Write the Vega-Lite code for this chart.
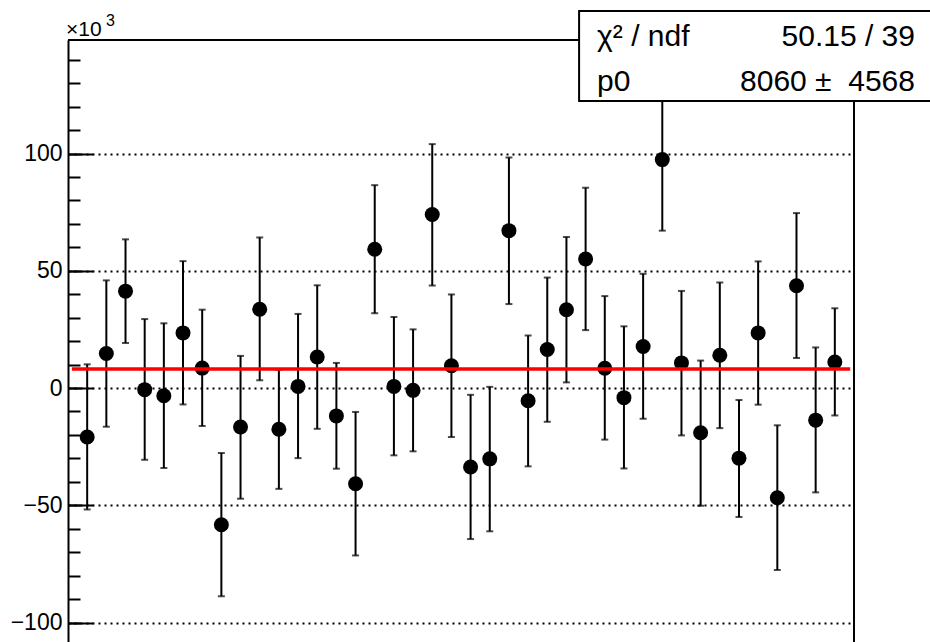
{
  "$schema": "https://vega.github.io/schema/vega-lite/v6.json",
  "width": 786,
  "height": 602,
  "autosize": {"type": "none"},
  "padding": {"left": 68, "top": 40, "right": 76, "bottom": 0},
  "background": "white",
  "config": {"view": {"stroke": null}, "font": "Liberation Sans"},
  "datasets": {
    "pts": [
      {"bin": 1, "val": -20.9, "lo": -51.8, "hi": 10.1},
      {"bin": 2, "val": 14.7, "lo": -16.5, "hi": 45.9},
      {"bin": 3, "val": 41.3, "lo": 19.2, "hi": 63.4},
      {"bin": 4, "val": -0.7, "lo": -30.6, "hi": 29.4},
      {"bin": 5, "val": -3.3, "lo": -34.1, "hi": 27.6},
      {"bin": 6, "val": 23.5, "lo": -7.0, "hi": 54.1},
      {"bin": 7, "val": 8.5, "lo": -16.2, "hi": 33.4},
      {"bin": 8, "val": -58.3, "lo": -88.8, "hi": -27.7},
      {"bin": 9, "val": -16.6, "lo": -47.2, "hi": 13.7},
      {"bin": 10, "val": 33.6, "lo": 3.3, "hi": 64.2},
      {"bin": 11, "val": -17.6, "lo": -43.0, "hi": 7.8},
      {"bin": 12, "val": 0.7, "lo": -29.9, "hi": 31.6},
      {"bin": 13, "val": 13.2, "lo": -17.4, "hi": 43.8},
      {"bin": 14, "val": -11.9, "lo": -34.4, "hi": 10.7},
      {"bin": 15, "val": -40.8, "lo": -71.4, "hi": -10.2},
      {"bin": 16, "val": 59.2, "lo": 31.9, "hi": 86.5},
      {"bin": 17, "val": 0.7, "lo": -28.7, "hi": 30.3},
      {"bin": 18, "val": -1.0, "lo": -27.0, "hi": 25.0},
      {"bin": 19, "val": 74.0, "lo": 43.7, "hi": 104.0},
      {"bin": 20, "val": 9.5, "lo": -20.9, "hi": 39.9},
      {"bin": 21, "val": -33.7, "lo": -64.4, "hi": -2.9},
      {"bin": 22, "val": -30.2, "lo": -61.1, "hi": 0.5},
      {"bin": 23, "val": 67.1, "lo": 35.8, "hi": 98.3},
      {"bin": 24, "val": -5.4, "lo": -33.4, "hi": 22.4},
      {"bin": 25, "val": 16.4, "lo": -14.4, "hi": 47.1},
      {"bin": 26, "val": 33.4, "lo": 2.4, "hi": 64.4},
      {"bin": 27, "val": 55.0, "lo": 24.7, "hi": 85.4},
      {"bin": 28, "val": 8.4, "lo": -22.0, "hi": 39.2},
      {"bin": 29, "val": -4.1, "lo": -34.3, "hi": 26.3},
      {"bin": 30, "val": 17.7, "lo": -13.1, "hi": 48.7},
      {"bin": 31, "val": 97.4, "lo": 67.1, "hi": 127.7},
      {"bin": 32, "val": 10.7, "lo": -20.2, "hi": 41.4},
      {"bin": 33, "val": -19.1, "lo": -50.2, "hi": 11.7},
      {"bin": 34, "val": 14.0, "lo": -17.1, "hi": 45.0},
      {"bin": 35, "val": -29.9, "lo": -55.0, "hi": -5.1},
      {"bin": 36, "val": 23.5, "lo": -7.1, "hi": 54.0},
      {"bin": 37, "val": -46.8, "lo": -77.6, "hi": -15.9},
      {"bin": 38, "val": 43.6, "lo": 12.8, "hi": 74.6},
      {"bin": 39, "val": -13.7, "lo": -44.5, "hi": 17.3},
      {"bin": 40, "val": 11.1, "lo": -11.7, "hi": 34.0}
    ],
    "fit": [
      {"bin": 0.2, "val": 8.06},
      {"bin": 40.8, "val": 8.06}
    ],
    "stats": [
      {"name": "χ² / ndf", "result": "50.15 / 39"}
    ],
    "stats2": [
      {"name": "p0", "result": "8060 ± \u00a04568"}
    ],
    "mult": [
      {"base": "×10", "exp": "3"}
    ]
  },
  "resolve": {"axis": {"y": "independent"}},
  "layer": [
    {
      "data": {"name": "pts"},
      "mark": {"type": "rule", "color": "black", "strokeWidth": 2},
      "encoding": {
        "x": {"field": "bin", "type": "quantitative", "scale": {"domain": [0, 41], "nice": false, "zero": false}, "axis": null},
        "y": {
          "field": "lo", "type": "quantitative",
          "scale": {"domain": [-108.3, 148.4], "nice": false, "zero": false},
          "axis": {
            "orient": "left",
            "values": [-100, -50, 0, 50, 100],
            "grid": true, "gridColor": "black", "gridDash": [2, 4], "gridWidth": 2, "gridOpacity": 1,
            "ticks": true, "tickSize": -25, "tickWidth": 2, "tickColor": "black",
            "domain": true, "domainColor": "black", "domainWidth": 2,
            "labelFontSize": 23, "labelColor": "black", "labelPadding": 31, "labelFont": "Liberation Sans",
            "labelExpr": "replace(format(datum.value, 'd'), '-', '\u2212')",
            "title": null
          }
        },
        "y2": {"field": "hi"}
      }
    },
    {
      "data": {"name": "pts"},
      "mark": {"type": "tick", "orient": "horizontal", "color": "black", "thickness": 2, "size": 7},
      "encoding": {
        "x": {"field": "bin", "type": "quantitative", "axis": null},
        "y": {
          "field": "lo", "type": "quantitative",
          "axis": {
            "orient": "left",
            "values": [-100, -90, -80, -70, -60, -50, -40, -30, -20, -10, 0, 10, 20, 30, 40, 50, 60, 70, 80, 90, 100, 110, 120, 130, 140],
            "grid": false, "labels": false, "domain": false, "title": null,
            "ticks": true, "tickSize": -12, "tickWidth": 2, "tickColor": "black"
          }
        }
      }
    },
    {
      "data": {"name": "pts"},
      "mark": {"type": "tick", "orient": "horizontal", "color": "black", "thickness": 2, "size": 7},
      "encoding": {
        "x": {"field": "bin", "type": "quantitative", "axis": null},
        "y": {"field": "hi", "type": "quantitative", "axis": null}
      }
    },
    {
      "data": {"name": "pts"},
      "mark": {"type": "point", "shape": "circle", "filled": true, "color": "black", "opacity": 1, "size": 225},
      "encoding": {
        "x": {"field": "bin", "type": "quantitative", "axis": null},
        "y": {"field": "val", "type": "quantitative", "axis": null}
      }
    },
    {
      "data": {"name": "fit"},
      "mark": {"type": "line", "color": "#ff0000", "strokeWidth": 3.5},
      "encoding": {
        "x": {"field": "bin", "type": "quantitative", "axis": null},
        "y": {"field": "val", "type": "quantitative", "axis": null}
      }
    },
    {
      "data": {"values": [{}]},
      "mark": {"type": "rule", "color": "black", "strokeWidth": 2},
      "encoding": {
        "y": {"datum": 148.4, "type": "quantitative", "axis": null}
      }
    },
    {
      "data": {"values": [{}]},
      "mark": {"type": "rule", "color": "black", "strokeWidth": 2},
      "encoding": {
        "x": {"datum": 41, "type": "quantitative", "axis": null}
      }
    },
    {
      "data": {"name": "mult"},
      "mark": {"type": "text", "align": "left", "baseline": "alphabetic", "fontSize": 21, "font": "Liberation Sans", "color": "black"},
      "encoding": {
        "text": {"field": "base"},
        "x": {"datum": -0.1, "type": "quantitative", "axis": null},
        "y": {"datum": 150.1, "type": "quantitative", "axis": null}
      }
    },
    {
      "data": {"name": "mult"},
      "mark": {"type": "text", "align": "left", "baseline": "alphabetic", "fontSize": 16, "font": "Liberation Sans", "color": "black"},
      "encoding": {
        "text": {"field": "exp"},
        "x": {"datum": 1.98, "type": "quantitative", "axis": null},
        "y": {"datum": 154.4, "type": "quantitative", "axis": null}
      }
    },
    {
      "data": {"values": [{}]},
      "mark": {"type": "rect", "fill": "white", "stroke": "black", "strokeWidth": 2},
      "encoding": {
        "x": {"datum": 26.66, "type": "quantitative", "axis": null},
        "x2": {"datum": 46},
        "y": {"datum": 160.8, "type": "quantitative", "axis": null},
        "y2": {"datum": 122.4}
      }
    },
    {
      "data": {"name": "stats"},
      "mark": {"type": "text", "align": "left", "baseline": "alphabetic", "fontSize": 30, "font": "Liberation Sans", "color": "black"},
      "encoding": {
        "text": {"field": "name"},
        "x": {"datum": 27.6, "type": "quantitative", "axis": null},
        "y": {"datum": 145.8, "type": "quantitative", "axis": null}
      }
    },
    {
      "data": {"name": "stats"},
      "mark": {"type": "text", "align": "right", "baseline": "alphabetic", "fontSize": 30, "font": "Liberation Sans", "color": "black"},
      "encoding": {
        "text": {"field": "result"},
        "x": {"datum": 44.18, "type": "quantitative", "axis": null},
        "y": {"datum": 145.8, "type": "quantitative", "axis": null}
      }
    },
    {
      "data": {"name": "stats2"},
      "mark": {"type": "text", "align": "left", "baseline": "alphabetic", "fontSize": 30, "font": "Liberation Sans", "color": "black"},
      "encoding": {
        "text": {"field": "name"},
        "x": {"datum": 27.6, "type": "quantitative", "axis": null},
        "y": {"datum": 126.65, "type": "quantitative", "axis": null}
      }
    },
    {
      "data": {"name": "stats2"},
      "mark": {"type": "text", "align": "right", "baseline": "alphabetic", "fontSize": 30, "font": "Liberation Sans", "color": "black"},
      "encoding": {
        "text": {"field": "result"},
        "x": {"datum": 44.18, "type": "quantitative", "axis": null},
        "y": {"datum": 126.65, "type": "quantitative", "axis": null}
      }
    }
  ]
}
